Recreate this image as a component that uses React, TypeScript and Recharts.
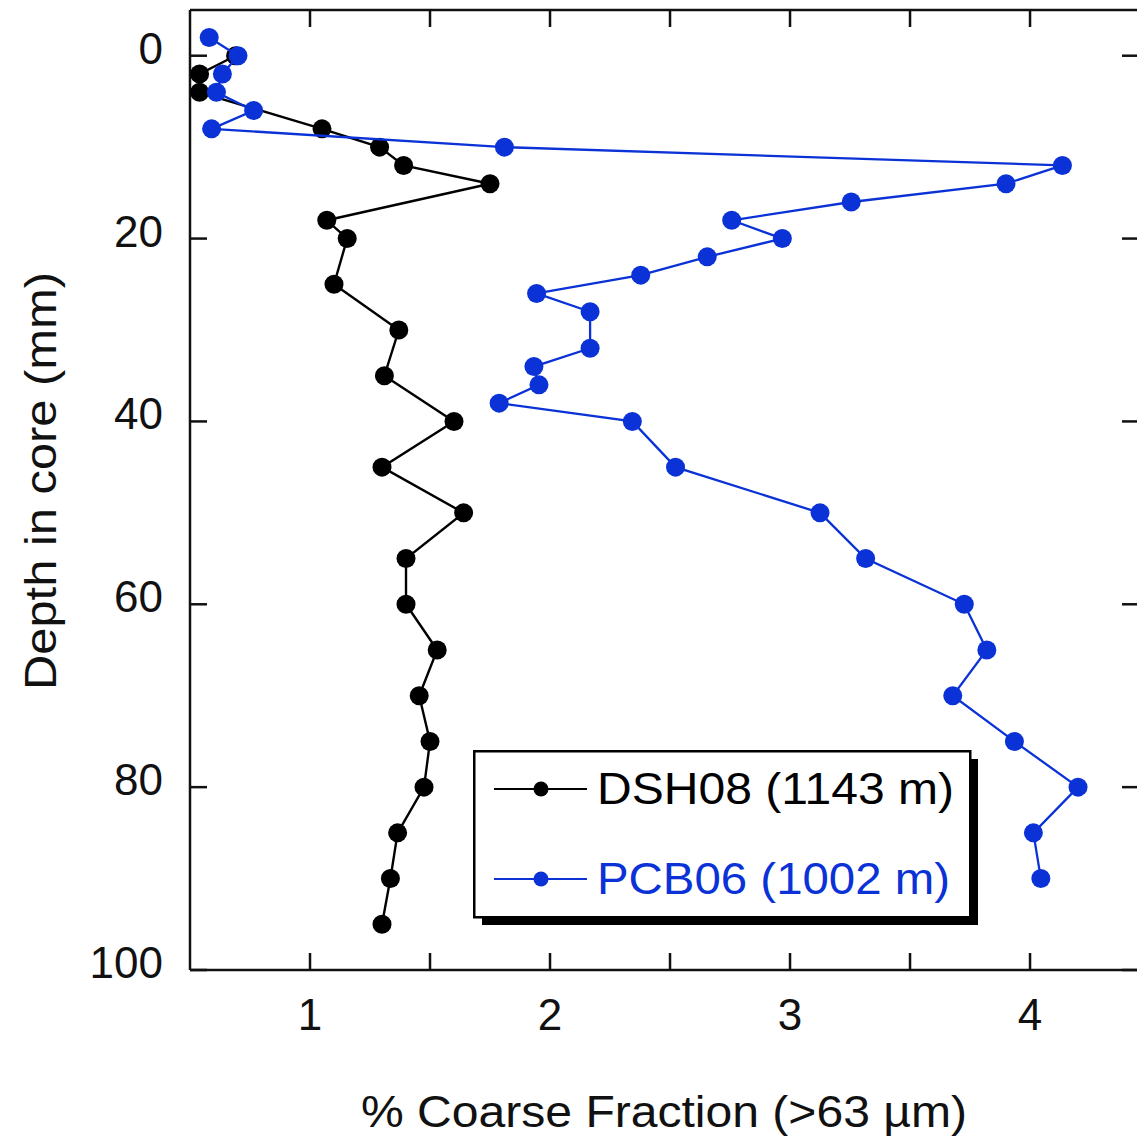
import React from 'react';
import { ScatterChart, Scatter, XAxis, YAxis, Legend, Label } from 'recharts';

const FONT = '"Liberation Sans", Arial, Helvetica, sans-serif';
const BLUE = '#0a32d6';
const INK = '#111';

// DSH08 (1143 m)
const dshDepth = [0, 2, 4, 8, 10, 12, 14, 18, 20, 25, 30, 35, 40, 45, 50, 55, 60, 65, 70, 75, 80, 85, 90, 95];
const dshCoarse = [0.69, 0.54, 0.54, 1.05, 1.29, 1.39, 1.75, 1.07, 1.155, 1.1, 1.37, 1.31, 1.6, 1.3, 1.64, 1.4, 1.4, 1.53, 1.455, 1.5, 1.475, 1.365, 1.335, 1.3];

// PCB06 (1002 m)
const pcbDepth = [-2, 0, 2, 4, 6, 8, 10, 12, 14, 16, 18, 20, 22, 24, 26, 28, 32, 34, 36, 38, 40, 45, 50, 55, 60, 65, 70, 75, 80, 85, 90];
const pcbCoarse = [0.58, 0.7, 0.635, 0.61, 0.765, 0.59, 1.81, 4.135, 3.9, 3.255, 2.757, 2.968, 2.655, 2.378, 1.944, 2.167, 2.167, 1.933, 1.954, 1.788, 2.343, 2.523, 3.125, 3.315, 3.726, 3.82, 3.678, 3.935, 4.2, 4.014, 4.045];

const seriesNames = ['DSH08 (1143 m)', 'PCB06 (1002 m)'];
const seriesColors = ['#000', BLUE];

const xTicks = [1, 1.5, 2, 2.5, 3, 3.5, 4];
const yTicks = [0, 20, 40, 60, 80, 100];
const xDomain = [0.5, 4.454];
const yDomain = [-5, 100];
const xTitle = '% Coarse Fraction (>63 \u00b5m)';
const yTitle = 'Depth in core (mm)';

const dshData = dshDepth.map((d, i) => ({ x: dshCoarse[i], y: d }));
const pcbData = pcbDepth.map((d, i) => ({ x: pcbCoarse[i], y: d }));

const renderXTick = (props: any) => {
  const { x, y, payload } = props;
  const v = payload.value;
  if (!Number.isInteger(v)) return <g />;
  return (
    <text x={x} y={y} textAnchor="middle" fontSize={44} fontFamily={FONT} fill={INK}>
      {v}
    </text>
  );
};

const renderYTick = (props: any) => {
  const { x, y, payload } = props;
  return (
    <text x={x} y={y + 8} textAnchor="end" fontSize={44} fontFamily={FONT} fill={INK}>
      {payload.value}
    </text>
  );
};

const renderNoTick = () => <g />;

const renderXTitle = (props: any) => {
  const vb = props.viewBox || { x: 190, y: 970, width: 949, height: 168 };
  return (
    <text
      x={664}
      y={vb.y + 157}
      textAnchor="middle"
      fontSize={44}
      fontFamily={FONT}
      fill={INK}
      textLength={606}
      lengthAdjust="spacingAndGlyphs"
    >
      {xTitle}
    </text>
  );
};

const renderYTitle = (props: any) => {
  const vb = props.viewBox || { x: 0, y: 10, width: 190, height: 960 };
  const cx = 40;
  const cy = vb.y + vb.height / 2 - 9;
  return (
    <text
      x={cx}
      y={cy}
      transform={`rotate(-90 ${cx} ${cy})`}
      textAnchor="middle"
      dominantBaseline="central"
      fontSize={44}
      fontFamily={FONT}
      fill={INK}
      textLength={418}
      lengthAdjust="spacingAndGlyphs"
    >
      {yTitle}
    </text>
  );
};

const legendTextLengths = [357, 353];

const renderLegend = () => (
  <svg width={512} height={180} style={{ display: 'block', overflow: 'visible' }}>
    <rect x={9} y={9} width={496} height={166} fill="#000" />
    <rect x={1.25} y={1.25} width={496} height={166} fill="#fff" stroke="#000" strokeWidth={2.5} />
    {seriesNames.map((name, i) => {
      const cy = i === 0 ? 39 : 129;
      return (
        <g key={name}>
          <line x1={21} x2={114} y1={cy} y2={cy} stroke={seriesColors[i]} strokeWidth={2.2} />
          <circle cx={68} cy={cy} r={7.5} fill={seriesColors[i]} />
          <text
            x={124}
            y={cy + 15}
            fontSize={44}
            fontFamily={FONT}
            fill={seriesColors[i]}
            textLength={legendTextLengths[i]}
            lengthAdjust="spacingAndGlyphs"
          >
            {name}
          </text>
        </g>
      );
    })}
  </svg>
);

const makeDot = (color: string) => (props: any) => {
  const { cx, cy } = props;
  if (cx == null || cy == null) return <g />;
  return <circle cx={cx} cy={cy} r={9.5} fill={color} />;
};

const axisLine = { stroke: INK, strokeWidth: 2.5 };
const tickLine = { stroke: INK, strokeWidth: 2.5 };

export default function App() {
  return (
    <div style={{ position: 'absolute', left: 0, top: 0, width: 1137, height: 1138, overflow: 'hidden', background: '#fff' }}>
      <ScatterChart width={1140} height={1138} margin={{ top: 9, right: 0, bottom: 0, left: 0 }}>
        <XAxis
          xAxisId="b"
          orientation="bottom"
          type="number"
          dataKey="x"
          domain={xDomain}
          ticks={xTicks}
          allowDataOverflow
          height={168}
          tickSize={-17}
          tickMargin={77}
          tick={renderXTick}
          axisLine={axisLine}
          tickLine={tickLine}
          interval={0}
        >
          <Label content={renderXTitle} />
        </XAxis>
        <XAxis
          xAxisId="t"
          orientation="top"
          type="number"
          dataKey="x"
          domain={xDomain}
          ticks={xTicks}
          allowDataOverflow
          height={1}
          tickSize={-17}
          tick={renderNoTick}
          axisLine={axisLine}
          tickLine={tickLine}
          interval={0}
        />
        <YAxis
          yAxisId="l"
          orientation="left"
          type="number"
          dataKey="y"
          reversed
          domain={yDomain}
          ticks={yTicks}
          allowDataOverflow
          width={190}
          tickSize={-17}
          tickMargin={44}
          tick={renderYTick}
          axisLine={axisLine}
          tickLine={tickLine}
          interval={0}
        >
          <Label content={renderYTitle} />
        </YAxis>
        <YAxis
          yAxisId="r"
          orientation="right"
          type="number"
          dataKey="y"
          reversed
          domain={yDomain}
          ticks={yTicks}
          allowDataOverflow
          width={1}
          tickSize={-17}
          tick={renderNoTick}
          axisLine={axisLine}
          tickLine={tickLine}
          interval={0}
        />
        <Scatter
          data={dshData}
          xAxisId="t"
          yAxisId="r"
          shape={renderNoTick}
          legendType="none"
          isAnimationActive={false}
        />
        <Scatter
          name={seriesNames[0]}
          data={dshData}
          xAxisId="b"
          yAxisId="l"
          fill="#000"
          line={{ stroke: '#000', strokeWidth: 2.4 }}
          lineType="joint"
          shape={makeDot('#000')}
          isAnimationActive={false}
        />
        <Scatter
          name={seriesNames[1]}
          data={pcbData}
          xAxisId="b"
          yAxisId="l"
          fill={BLUE}
          line={{ stroke: BLUE, strokeWidth: 2.3 }}
          lineType="joint"
          shape={makeDot(BLUE)}
          isAnimationActive={false}
        />
        <Legend
          layout="horizontal"
          verticalAlign="middle"
          align="center"
          content={renderLegend}
          wrapperStyle={{ position: 'absolute', left: 473, top: 750, width: 512, height: 180 }}
        />
      </ScatterChart>
    </div>
  );
}
